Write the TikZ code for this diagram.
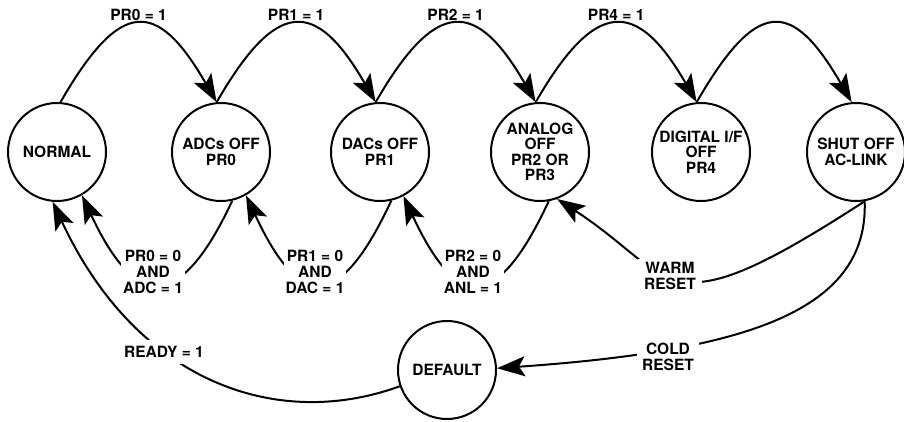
\documentclass[tikz,border=0pt]{standalone}
\usepackage{fontspec}
\setmainfont{TeX Gyre Heros}
\usetikzlibrary{arrows.meta}
\begin{document}
\begin{tikzpicture}[x=1pt,y=1pt,
  state/.style={circle, draw, line width=2pt, minimum size=98pt, inner sep=0pt, align=center,
    font=\bfseries\fontsize{15.5}{15.5}\selectfont},
  lbl/.style={align=center, font=\bfseries\fontsize{15.5}{16}\selectfont, inner sep=1pt},
  mask/.style={lbl, fill=white, inner xsep=2pt, inner ysep=2pt},
  conn/.style={line width=2pt, -{Stealth[length=28pt,width=20pt,inset=6pt]}},
  plainline/.style={line width=2pt}]
\useasboundingbox (0,0) rectangle (904,421);
% states
\node[state] (n0) at (57,269) {NORMAL};
\node[state] (n1) at (221,269) {ADCs OFF\\PR0};
\node[state] (n2) at (380,269) {DACs OFF\\PR1};
\node[state] (n3) at (540,269) {ANALOG\\OFF\\PR2 OR\\PR3};
\node[state] (n4) at (701,269) {DIGITAL I/F\\OFF\\PR4};
\node[state] (n5) at (856,269) {SHUT OFF\\AC-LINK};
\node[state] (d) at (447,51) {DEFAULT};
% forward arcs
\tikzset{fwd/.style={conn, out=60, in=120, out distance=120pt, in distance=120pt}}
\draw[fwd] (n0.86) to node[lbl, midway, yshift=9pt] (l0) {PR0 = 1} (n1.95);
\draw[fwd] (n1.95) to node[lbl, midway, yshift=9pt] (l1) {PR1 = 1} (n2.95);
\draw[fwd] (n2.95) to node[lbl, midway, yshift=9pt] (l2) {PR2 = 1} (n3.95);
\draw[fwd] (n3.95) to node[lbl, midway, yshift=9pt] (l3) {PR4 = 1} (n4.95);
\draw[fwd] (n4.95) to (n5.95);
% return arcs
\tikzset{bwd/.style={conn, out=245, in=-65, out distance=125pt, in distance=125pt}}
\draw[bwd] (n1.-77) to (n0.-60);
\draw[bwd] (n2.-77) to (n1.-60);
\draw[bwd] (n3.-80) to (n2.-62);
\draw[conn] (n5.-80) to[out=213, in=-33, out distance=245pt, in distance=145pt] (n3.-70);
\draw[conn] (n5.-80) to[out=-88, in=4, out distance=110pt, in distance=250pt] (d.2);
\draw[conn] (d.199) to[out=200, in=-65, out distance=130pt, in distance=200pt] (n0.-95);
% labels masking the return arcs
\node[mask] (m0) at (153,149) {PR0 = 0\\AND\\ADC = 1};
\node[mask] (m1) at (315,149) {PR1 = 0\\AND\\DAC = 1};
\node[mask] (m2) at (473,149) {PR2 = 0\\AND\\ANL = 1};
\node[mask, inner xsep=6pt, inner ysep=3pt] (mw) at (670,145) {WARM\\RESET};
\node[mask, inner xsep=5pt] (mc) at (668,64) {COLD\\RESET};
\node[mask, inner ysep=6pt] (mr) at (164,69) {READY = 1};
\end{tikzpicture}
\end{document}
